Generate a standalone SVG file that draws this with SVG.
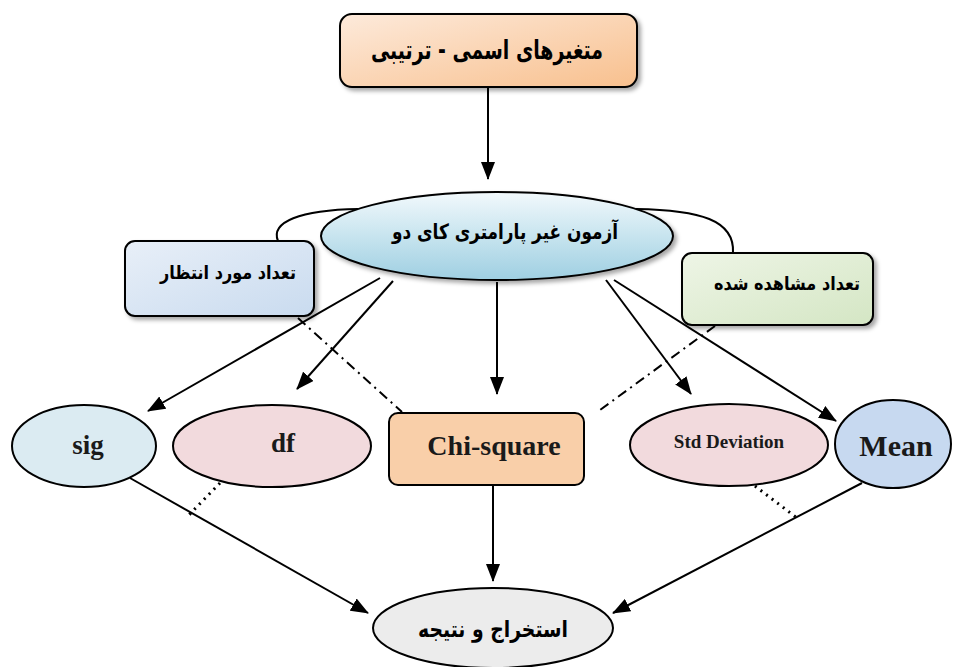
<svg xmlns="http://www.w3.org/2000/svg" width="969" height="667" viewBox="0 0 969 667">
<defs>
<linearGradient id="gOrange" x1="0" y1="0" x2="1" y2="1"><stop offset="0" stop-color="#fdeadb"/><stop offset="1" stop-color="#f8c08e"/></linearGradient>
<linearGradient id="gBlue" x1="0" y1="0" x2="0" y2="1"><stop offset="0" stop-color="#f2f9fc"/><stop offset="0.6" stop-color="#bfe0ec"/><stop offset="1" stop-color="#9fcfe2"/></linearGradient>
<linearGradient id="gLBox" x1="0" y1="0" x2="1" y2="1"><stop offset="0" stop-color="#e8eff8"/><stop offset="1" stop-color="#c9dbef"/></linearGradient>
<linearGradient id="gRBox" x1="0" y1="0" x2="1" y2="1"><stop offset="0" stop-color="#eef5e6"/><stop offset="1" stop-color="#d4e6c4"/></linearGradient>
<filter id="sh" x="-10%" y="-10%" width="130%" height="140%"><feDropShadow dx="3" dy="3" stdDeviation="2" flood-color="#000" flood-opacity="0.35"/></filter>
<marker id="ah" viewBox="0 0 18 14" refX="17" refY="7" markerWidth="18" markerHeight="14" markerUnits="userSpaceOnUse" orient="auto"><path d="M0,0 L18,7 L0,14 Z" fill="#000"/></marker>
<style>
.ln{stroke:#000;stroke-width:2;fill:none}
.arr{stroke:#000;stroke-width:2;fill:none;marker-end:url(#ah)}
.dd{stroke:#000;stroke-width:2;fill:none;stroke-dasharray:10 5 2 5}
.dot{stroke:#000;stroke-width:3;fill:none;stroke-dasharray:2 5}
.sh{stroke:#000;stroke-width:2}
.fa{font-family:"DejaVu Sans",sans-serif;font-weight:bold;text-anchor:middle;dominant-baseline:central;fill:#000}
.en{font-family:"Liberation Serif",serif;font-weight:bold;text-anchor:middle;dominant-baseline:central;fill:#1a1a1a}
</style>
</defs>
<rect width="969" height="667" fill="#fff"/>
<g id="connectors">
<line class="arr" x1="488" y1="88" x2="488" y2="179"/>
<path class="ln" d="M358,209 C300,210 270,222 278,241"/>
<path class="ln" d="M636,209 C700,210 735,220 733,253"/>
<line class="arr" x1="380" y1="278" x2="148" y2="411"/>
<line class="arr" x1="393" y1="281" x2="297" y2="389"/>
<line class="arr" x1="497" y1="282" x2="497" y2="394"/>
<line class="arr" x1="606" y1="280" x2="691" y2="394"/>
<line class="arr" x1="614" y1="280" x2="836" y2="421"/>
<line class="dd" x1="298" y1="318" x2="402" y2="412"/>
<line class="dd" x1="715" y1="326" x2="600" y2="410"/>
<line class="arr" x1="130" y1="478" x2="368" y2="613"/>
<line class="arr" x1="493" y1="486" x2="493" y2="581"/>
<line class="arr" x1="862" y1="483" x2="613" y2="613"/>
<line class="dot" x1="220" y1="483" x2="188" y2="516"/>
<line class="dot" x1="755" y1="486" x2="797" y2="518"/>
</g>
<g id="n-top">
<rect x="340" y="14" width="297" height="73" rx="12" fill="url(#gOrange)" class="sh" filter="url(#sh)"/>
<text class="fa" x="487" y="50" font-size="26" textLength="232" lengthAdjust="spacingAndGlyphs" direction="rtl">متغیرهای اسمی - ترتیبی</text>
</g>
<g id="n-center">
<ellipse cx="497" cy="236" rx="176" ry="44" fill="url(#gBlue)" class="sh" filter="url(#sh)"/>
<text class="fa" x="505" y="232" font-size="21" textLength="226" lengthAdjust="spacingAndGlyphs" direction="rtl">آزمون غیر پارامتری کای دو</text>
</g>
<g id="n-expected">
<rect x="125" y="241" width="189" height="75" rx="10" fill="url(#gLBox)" class="sh" filter="url(#sh)"/>
<text class="fa" x="228" y="272" font-size="19" textLength="136" lengthAdjust="spacingAndGlyphs" direction="rtl">تعداد مورد انتظار</text>
</g>
<g id="n-observed">
<rect x="682" y="253" width="191" height="72" rx="10" fill="url(#gRBox)" class="sh" filter="url(#sh)"/>
<text class="fa" x="787" y="283" font-size="19" textLength="146" lengthAdjust="spacingAndGlyphs" direction="rtl">تعداد مشاهده شده</text>
</g>
<g id="n-sig">
<ellipse cx="84" cy="446" rx="72" ry="41" fill="#dbebf2" class="sh"/>
<text class="en" x="88" y="445" font-size="27">sig</text>
</g>
<g id="n-df">
<ellipse cx="272" cy="446" rx="99" ry="41" fill="#f2dadd" class="sh"/>
<text class="en" x="283" y="443" font-size="27">df</text>
</g>
<g id="n-chi">
<rect x="389" y="413" width="195" height="72" rx="9" fill="#f9cfa9" class="sh"/>
<text class="en" x="494" y="445" font-size="28">Chi-square</text>
</g>
<g id="n-std">
<ellipse cx="729" cy="445" rx="99" ry="41" fill="#f2dadd" class="sh"/>
<text class="en" x="729" y="441" font-size="19">Std Deviation</text>
</g>
<g id="n-mean">
<ellipse cx="893" cy="444" rx="58" ry="44" fill="#c7d9f0" class="sh"/>
<text class="en" x="896" y="445" font-size="30">Mean</text>
</g>
<g id="n-result">
<ellipse cx="493" cy="628" rx="120" ry="40" fill="#ececec" class="sh"/>
<text class="fa" x="493" y="629" font-size="23" textLength="150" lengthAdjust="spacingAndGlyphs" direction="rtl">استخراج و نتیجه</text>
</g>
</svg>
